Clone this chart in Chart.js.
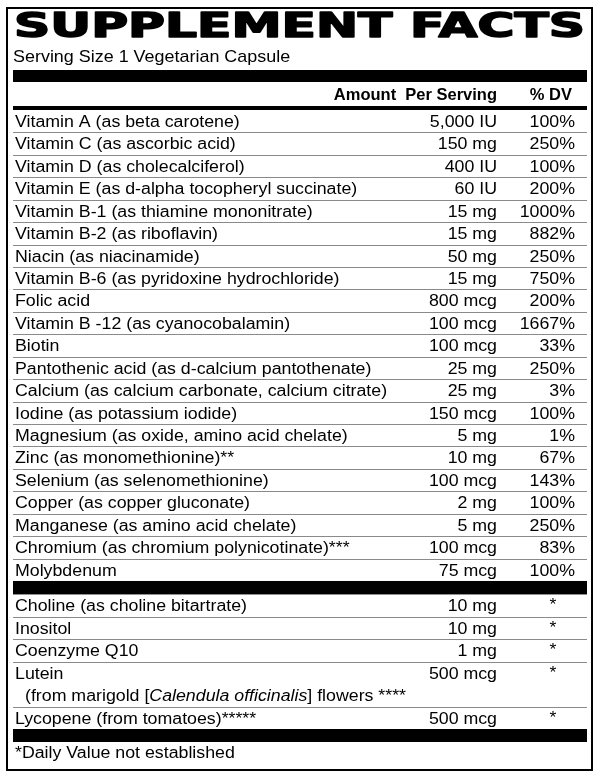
<!DOCTYPE html>
<html>
<head>
<meta charset="utf-8">
<script src="https://cdn.jsdelivr.net/npm/chart.js@4"></script>
<style>
	html, body { margin: 0; padding: 0; background: #fff; }
	#wrap { width: 600px; height: 778px; }
</style>
</head>
<body>
<div id="wrap"><canvas id="facts" width="600" height="778"></canvas></div>
<script>
// ── Data ────────────────────────────────────────────────────────────────────

const TITLE = 'SUPPLEMENT FACTS'
const SERVING = 'Serving Size 1 Vegetarian Capsule'
const HEAD_AMOUNT = 'Amount  Per Serving'
const HEAD_DV = '% DV'
const FOOTNOTE = '*Daily Value not established'

const vitamins = [
	'Vitamin A (as beta carotene)',
	'Vitamin C (as ascorbic acid)',
	'Vitamin D (as cholecalciferol)',
	'Vitamin E (as d-alpha tocopheryl succinate)',
	'Vitamin B-1 (as thiamine mononitrate)',
	'Vitamin B-2 (as riboflavin)',
	'Niacin (as niacinamide)',
	'Vitamin B-6 (as pyridoxine hydrochloride)',
	'Folic acid',
	'Vitamin B -12 (as cyanocobalamin)',
	'Biotin',
	'Pantothenic acid (as d-calcium pantothenate)',
	'Calcium (as calcium carbonate, calcium citrate)',
	'Iodine (as potassium iodide)',
	'Magnesium (as oxide, amino acid chelate)',
	'Zinc (as monomethionine)**',
	'Selenium (as selenomethionine)',
	'Copper (as copper gluconate)',
	'Manganese (as amino acid chelate)',
	'Chromium (as chromium polynicotinate)***',
	'Molybdenum',
]
const vitaminAmounts = [
	'5,000 IU', '150 mg', '400 IU', '60 IU', '15 mg', '15 mg', '50 mg', '15 mg', '800 mcg', '100 mcg',
	'100 mcg', '25 mg', '25 mg', '150 mcg', '5 mg', '10 mg', '100 mcg', '2 mg', '5 mg', '100 mcg', '75 mcg',
]
const vitaminDV = [
	'100%', '250%', '100%', '200%', '1000%', '882%', '250%', '750%', '200%', '1667%',
	'33%', '250%', '3%', '100%', '1%', '67%', '143%', '100%', '250%', '83%', '100%',
]

const others = [
	'Choline (as choline bitartrate)',
	'Inositol',
	'Coenzyme Q10',
	'Lutein',
	'Lycopene (from tomatoes)*****',
]
const otherAmounts = ['10 mg', '10 mg', '1 mg', '500 mcg', '500 mcg']
const otherDV = ['*', '*', '*', '*', '*']
// second text line of the Lutein row: plain, italic, plain
const luteinSource = ['(from marigold [', 'Calendula officinalis', '] flowers ****']

// ── Row layout in y units (one text line = 1 unit) ───────────────────────────

const BAR_UNITS = 0.6
const otherSpans = others.map(n => (n === 'Lutein' ? 2 : 1))
const rows = []
let u = 0
vitamins.forEach((name, i) => {
	rows.push({ name, amount: vitaminAmounts[i], dv: vitaminDV[i], top: u, span: 1, section: 0 })
	u += 1
})
const barTop = u
u += BAR_UNITS
others.forEach((name, i) => {
	rows.push({ name, amount: otherAmounts[i], dv: otherDV[i], top: u, span: otherSpans[i], section: 1 })
	u += otherSpans[i]
})
const TOTAL_UNITS = u

// ── Drawing ─────────────────────────────────────────────────────────────────

const FONT = '"Liberation Sans", Arial, Helvetica, sans-serif'
const X_TEXT = 15
const X_AMOUNT = 497
const X_DV = 575
const X_STAR = 553
const STRETCH = 1.11 // the label type is set a little wide

// text with a horizontal stretch, anchored at x by align
function wideText(c, text, x, y, align, sx) {
	const w = c.measureText(text).width * sx
	const x0 = align === 'right' ? x - w : align === 'center' ? x - w / 2 : x
	c.save()
	c.textAlign = 'left'
	c.translate(x0, y)
	c.scale(sx, 1)
	c.fillText(text, 0, 0)
	c.restore()
	return w
}

const factsPlugin = {
	id: 'facts',
	afterDraw(chart) {
		const c = chart.ctx
		const area = chart.chartArea
		const ys = chart.scales.y
		const L = area.left
		const R = area.right
		const px = v => ys.getPixelForValue(v)

		c.save()
		c.fillStyle = '#000'
		c.strokeStyle = '#000'
		c.textBaseline = 'alphabetic'

		// outer frame
		c.lineWidth = 2
		c.strokeRect(7, 8, 585, 762)

		// title, stretched across the panel
		c.font = `bold 34px "DejaVu Sans", sans-serif`
		c.textAlign = 'left'
		const tw = c.measureText(TITLE).width
		c.save()
		c.translate(L + 1, 37)
		c.scale((R - L - 3) / tw, 1)
		c.lineWidth = 1.6
		c.lineJoin = 'round'
		c.fillText(TITLE, 0, 0)
		c.strokeText(TITLE, 0, 0)
		c.restore()

		c.font = `17px ${FONT}`
		wideText(c, SERVING, L, 62, 'left', 1.055)

		c.fillRect(L, 70, R - L, 12)

		c.font = `bold 16.5px ${FONT}`
		c.textAlign = 'right'
		c.fillText(HEAD_AMOUNT, X_AMOUNT, 100)
		c.fillText(HEAD_DV, 572, 100)

		c.fillRect(L, area.top - 4, R - L, 4)

		// row rules
		c.strokeStyle = '#8a8a8a'
		c.lineWidth = 1
		rows.forEach((r, i) => {
			if (i === 0 || r.section !== rows[i - 1].section) return
			const y = Math.round(px(r.top)) + 0.5
			c.beginPath()
			c.moveTo(L, y)
			c.lineTo(R, y)
			c.stroke()
		})

		// separator bars
		c.fillRect(L, px(barTop), R - L, px(barTop + BAR_UNITS) - px(barTop))
		c.fillRect(L, area.bottom, R - L, 13)

		// row texts
		c.font = `16px ${FONT}`
		rows.forEach(r => {
			const base = px(r.top) + 17
			wideText(c, r.name, X_TEXT, base, 'left', STRETCH)
			wideText(c, r.amount, X_AMOUNT, base, 'right', STRETCH)
			if (r.dv === '*') {
				wideText(c, r.dv, X_STAR, base - 1, 'center', STRETCH)
			} else {
				wideText(c, r.dv, X_DV, base, 'right', STRETCH)
			}
			if (r.span === 2) {
				const b2 = px(r.top + 1) + 17
				let x = X_TEXT + 10
				luteinSource.forEach((part, k) => {
					c.font = k === 1 ? `italic 16px ${FONT}` : `16px ${FONT}`
					x += wideText(c, part, x, b2, 'left', STRETCH)
				})
				c.font = `16px ${FONT}`
			}
		})

		wideText(c, FOOTNOTE, X_TEXT, 758, 'left', STRETCH)
		c.restore()
	},
}

new Chart(document.getElementById('facts'), {
	type: 'scatter',
	data: {
		datasets: [
			{
				data: rows.map(r => ({ x: 0, y: r.top + r.span / 2 })),
				pointRadius: 0,
				showLine: false,
			},
		],
	},
	options: {
		responsive: false,
		animation: false,
		layout: { padding: { top: 110, bottom: 49, left: 13, right: 13 } },
		scales: {
			x: { display: false, min: 0, max: 1 },
			y: { display: false, min: 0, max: TOTAL_UNITS, reverse: true },
		},
		plugins: { legend: { display: false }, tooltip: { enabled: false } },
	},
	plugins: [factsPlugin],
})
</script>
</body>
</html>
